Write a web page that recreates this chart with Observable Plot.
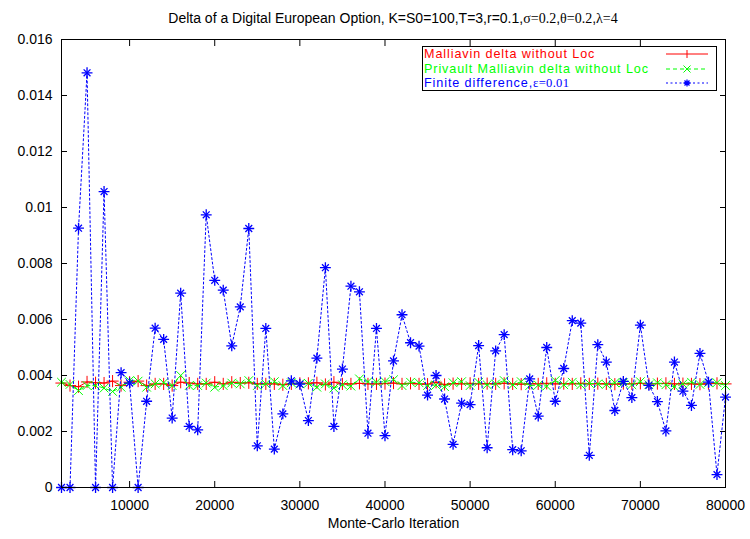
<!DOCTYPE html>
<html><head><meta charset="utf-8">
<script src="https://cdn.jsdelivr.net/npm/d3@7"></script>
<script src="https://cdn.jsdelivr.net/npm/@observablehq/plot@0.6"></script>
<style>
body{margin:0;background:#fff;}
#wrap{position:relative;width:750px;height:539px;font-family:"Liberation Sans",Arial,sans-serif;color:#000;}
#title{height:30px;box-sizing:border-box;padding-top:11px;padding-left:36px;font-size:14px;line-height:14px;text-align:center;white-space:nowrap;overflow:visible;}
.serif{font-family:"Liberation Serif","Times New Roman",serif;}
#legend{position:absolute;left:422px;top:46px;width:295px;height:45px;box-sizing:border-box;border:1px solid #000;background:#fff;}
.row{position:absolute;left:1px;height:14.5px;font-size:12.6px;line-height:14.5px;letter-spacing:0.9px;white-space:nowrap;}
.row .serif{letter-spacing:0.3px;}
.sample{position:absolute;left:242px;}
</style>
</head><body>
<div id="wrap">
<div id="title">Delta of a Digital European Option, K=S0=100,T=3,r=0.1,<span class="serif">σ=0.2</span>,<span class="serif">θ=0.2</span>,<span class="serif">λ=4</span></div>
<div id="chart"></div>
<div id="legend"></div>
</div>
<script>
const iterations = [2000,3000,4000,5000,6000,7000,8000,9000,10000,11000,12000,13000,14000,15000,16000,17000,18000,19000,20000,21000,22000,23000,24000,25000,26000,27000,28000,29000,30000,31000,32000,33000,34000,35000,36000,37000,38000,39000,40000,41000,42000,43000,44000,45000,46000,47000,48000,49000,50000,51000,52000,53000,54000,55000,56000,57000,58000,59000,60000,61000,62000,63000,64000,65000,66000,67000,68000,69000,70000,71000,72000,73000,74000,75000,76000,77000,78000,79000,80000];

const malliavin = [0.00373,0.00364,0.0036,0.00377,0.00374,0.00373,0.0038,0.00364,0.00376,0.0038,0.00364,0.0037,0.0037,0.00364,0.00376,0.00373,0.0037,0.0037,0.00376,0.0037,0.00376,0.00373,0.00374,0.0037,0.0037,0.0037,0.00367,0.0037,0.00372,0.00372,0.00374,0.00368,0.00376,0.0037,0.0037,0.00372,0.0037,0.0037,0.00371,0.00373,0.0037,0.00372,0.0037,0.00369,0.00376,0.00368,0.00371,0.0037,0.00372,0.0037,0.00371,0.0037,0.00372,0.0037,0.00369,0.00371,0.0037,0.00372,0.0037,0.00371,0.0037,0.00372,0.0037,0.00371,0.0037,0.00369,0.00371,0.0037,0.00372,0.0037,0.00371,0.00372,0.0037,0.00371,0.0037,0.00369,0.00371,0.00372,0.0037];

const privault = [0.00376,0.00368,0.00346,0.00364,0.00364,0.00355,0.00343,0.00358,0.00382,0.0038,0.00358,0.0037,0.00374,0.00364,0.004,0.00364,0.00364,0.00373,0.00358,0.00364,0.00373,0.0037,0.00382,0.00364,0.0037,0.00378,0.00364,0.00374,0.0037,0.00372,0.00358,0.0037,0.00355,0.00367,0.00362,0.00388,0.00378,0.00376,0.00378,0.00385,0.00364,0.00376,0.00374,0.00364,0.00366,0.0036,0.00374,0.00378,0.00364,0.00376,0.00367,0.0037,0.00382,0.00367,0.00378,0.00364,0.00366,0.00362,0.00382,0.00367,0.00376,0.00367,0.00372,0.0037,0.00368,0.00374,0.00374,0.00367,0.00378,0.00367,0.00374,0.00367,0.0036,0.0037,0.00376,0.00368,0.00374,0.00374,0.00364];

const finiteDiff = [0,0,0.00926,0.01481,0,0.01057,0,0.0041,0.00373,0,0.00308,0.00569,0.00529,0.00248,0.00694,0.00218,0.00206,0.00974,0.0074,0.00705,0.00506,0.00645,0.00925,0.00149,0.00568,0.00137,0.00263,0.00381,0.00369,0.00239,0.00462,0.00785,0.00218,0.00423,0.00719,0.00699,0.00194,0.00568,0.00185,0.00452,0.00617,0.00517,0.00505,0.0033,0.004,0.00316,0.00154,0.00301,0.00296,0.00507,0.00142,0.00488,0.00546,0.00135,0.00131,0.00388,0.00255,0.005,0.00308,0.00425,0.00596,0.00587,0.00115,0.0051,0.00448,0.00275,0.00379,0.00321,0.0058,0.00365,0.00307,0.00202,0.00448,0.00344,0.00293,0.00479,0.00376,0.00046,0.00323];

const xTicks = [10000,20000,30000,40000,50000,60000,70000,80000];
const yTicks = [0,0.002,0.004,0.006,0.008,0.01,0.012,0.014,0.016];
const seriesNames = ["Malliavin delta without Loc","Privault Malliavin delta without Loc","Finite difference,"];
const seriesColors = ["#ff0000","#00ff00","#0000ff"];

const rows = iterations.map((x, i) => ({x, red: malliavin[i], green: privault[i], blue: finiteDiff[i]}));
const blank = () => "";

const plot = Plot.plot({
  width: 750, height: 509,
  marginLeft: 61, marginRight: 25, marginTop: 9, marginBottom: 52,
  x: {domain: [2000, 80000]},
  y: {domain: [0, 0.016]},
  style: {fontFamily: "'Liberation Sans', Arial, sans-serif", fontSize: "14px", color: "#000", background: "#fff", overflow: "visible"},
  marks: [
    Plot.axisY(yTicks, {anchor: "left", tickSize: 0, tickPadding: 9, tickFormat: d => String(d), label: null}),
    Plot.axisY(yTicks, {anchor: "left", tickSize: -6, tickFormat: blank, label: null}),
    Plot.axisY(yTicks, {anchor: "right", tickSize: -6, tickFormat: blank, label: null}),
    Plot.axisX(xTicks, {anchor: "bottom", tickSize: 0, tickPadding: 13, tickFormat: d => String(d), label: null}),
    Plot.axisX(xTicks, {anchor: "bottom", tickSize: -6, tickFormat: blank, label: null}),
    Plot.axisX(xTicks, {anchor: "top", tickSize: -6, tickFormat: blank, label: null}),
    Plot.text(["Monte-Carlo Iteration"], {frameAnchor: "bottom", dy: 40, fontSize: 14}),
    Plot.line(rows, {x: "x", y: "red", stroke: seriesColors[0], strokeWidth: 1}),
    Plot.dot(rows, {x: "x", y: "red", symbol: "plus", r: 4, stroke: seriesColors[0], strokeWidth: 1}),
    Plot.line(rows, {x: "x", y: "green", stroke: seriesColors[1], strokeWidth: 1, strokeDasharray: "4,3"}),
    Plot.dot(rows, {x: "x", y: "green", symbol: "times", r: 4, stroke: seriesColors[1], strokeWidth: 1}),
    Plot.line(rows, {x: "x", y: "blue", stroke: seriesColors[2], strokeWidth: 1, strokeDasharray: "2,2.5"}),
    Plot.dot(rows, {x: "x", y: "blue", symbol: "plus", r: 3.6, stroke: seriesColors[2], strokeWidth: 1.3}),
    Plot.dot(rows, {x: "x", y: "blue", symbol: "times", r: 3.2, stroke: seriesColors[2], strokeWidth: 1.3}),
    Plot.frame({stroke: "#000", strokeWidth: 1})
  ]
});
document.getElementById("chart").appendChild(plot);

// legend
const legend = document.getElementById("legend");
const dashes = [null, "4,3", "2,2.5"];
const tops = [0, 14.5, 29];
seriesNames.forEach((name, i) => {
  const row = document.createElement("div");
  row.className = "row";
  row.style.top = tops[i] + "px";
  row.style.color = seriesColors[i];
  row.textContent = name;
  if (i === 2) {
    const s = document.createElement("span");
    s.className = "serif";
    s.textContent = "ε=0.01";
    row.appendChild(s);
  }
  legend.appendChild(row);
  const ns = "http://www.w3.org/2000/svg";
  const svg = document.createElementNS(ns, "svg");
  svg.setAttribute("class", "sample");
  svg.setAttribute("width", 44); svg.setAttribute("height", 12);
  svg.style.top = (tops[i] + 1.25) + "px";
  const ln = document.createElementNS(ns, "line");
  ln.setAttribute("x1", 1); ln.setAttribute("x2", 43); ln.setAttribute("y1", 6); ln.setAttribute("y2", 6);
  ln.setAttribute("stroke", seriesColors[i]);
  if (dashes[i]) ln.setAttribute("stroke-dasharray", dashes[i]);
  svg.appendChild(ln);
  const p = document.createElementNS(ns, "path");
  const paths = ["M22,2V10", "M18.5,2.5L25.5,9.5M25.5,2.5L18.5,9.5", "M22,2.5V9.5M18.5,6H25.5M19.5,3.5L24.5,8.5M24.5,3.5L19.5,8.5"];
  p.setAttribute("d", paths[i]);
  p.setAttribute("stroke", seriesColors[i]);
  p.setAttribute("fill", "none");
  p.setAttribute("stroke-width", i === 2 ? 1.3 : 1);
  svg.appendChild(p);
  legend.appendChild(svg);
});
</script>
</body></html>
